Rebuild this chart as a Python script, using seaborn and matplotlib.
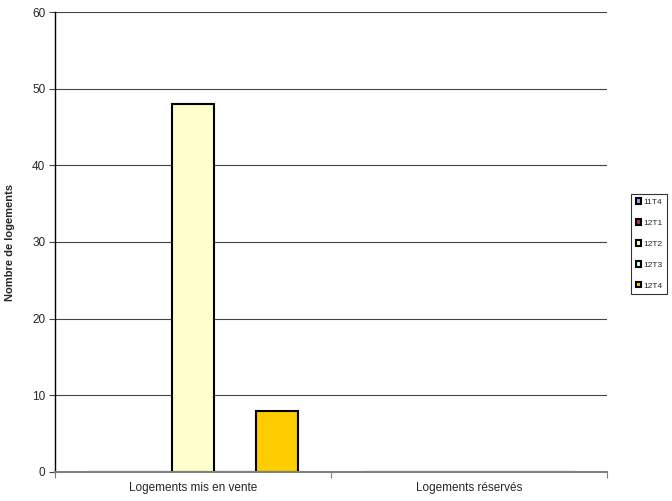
import pandas as pd
import matplotlib
matplotlib.use('Agg')
import matplotlib.pyplot as plt
import seaborn as sns
from matplotlib.patches import Patch

categories = ['Logements mis en vente', 'Logements réservés']
series = ['11T4', '12T1', '12T2', '12T3', '12T4']
values_11T4 = [0, 0]
values_12T1 = [0, 0]
values_12T2 = [48, 0]
values_12T3 = [0, 0]
values_12T4 = [8, 0]
colors = ['#9999FF', '#993366', '#FFFFCC', '#CCFFFF', '#FFCC00']

all_values = [values_11T4, values_12T1, values_12T2, values_12T3, values_12T4]
rows = []
for s, vals in zip(series, all_values):
    for c, v in zip(categories, vals):
        rows.append({'categorie': c, 'serie': s, 'valeur': v})
df = pd.DataFrame(rows)

sns.set_theme(style='white')
plt.rcParams['font.family'] = ['Liberation Sans', 'DejaVu Sans']

fig = plt.figure(figsize=(6.72, 5.01), dpi=100)
ax = fig.add_axes([0.0818, 0.058, 0.821, 0.918])

sns.barplot(
    data=df,
    x='categorie',
    y='valeur',
    hue='serie',
    hue_order=series,
    palette=colors,
    saturation=1,
    width=0.76,
    edgecolor='black',
    linewidth=1.5,
    ax=ax,
    legend=False
)

ax.set_ylim(0, 60)
ax.set_xlim(-0.5, 1.5)
ax.set_yticks(range(0, 61, 10))
ax.yaxis.grid(True, color='#444444', linewidth=0.8)
ax.set_axisbelow(True)
for side in ['top', 'right']:
    ax.spines[side].set_visible(False)
ax.spines['left'].set_color('black')
ax.spines['left'].set_linewidth(1)
ax.spines['bottom'].set_color('#808080')
ax.spines['bottom'].set_linewidth(1.5)
ax.spines['bottom'].set_zorder(5)
ax.tick_params(axis='y', which='major', length=4, width=0.8, color='#444444',
               labelsize=8.5, left=True, pad=3)
ax.tick_params(axis='x', which='major', length=0, labelsize=8.5, pad=7)
ax.set_xticks([-0.5, 0.5, 1.5], minor=True)
ax.tick_params(axis='x', which='minor', length=4, width=0.8, color='#808080', bottom=True)

ax.set_xlabel('')
ax.set_ylabel('Nombre de logements', fontsize=8, fontweight='bold', labelpad=12)

handles = [Patch(facecolor=c, edgecolor='black', linewidth=1.5) for c in colors]
leg = fig.legend(handles, series, loc='upper left', bbox_to_anchor=(0.939, 0.613),
                 fontsize=6, frameon=True, fancybox=False, handlelength=0.6,
                 handleheight=0.6, handletextpad=0.3, labelspacing=1.6,
                 borderpad=0.55, borderaxespad=0)
leg.get_frame().set_edgecolor('black')
leg.get_frame().set_linewidth(0.8)

plt.savefig('out.png', dpi=100)
